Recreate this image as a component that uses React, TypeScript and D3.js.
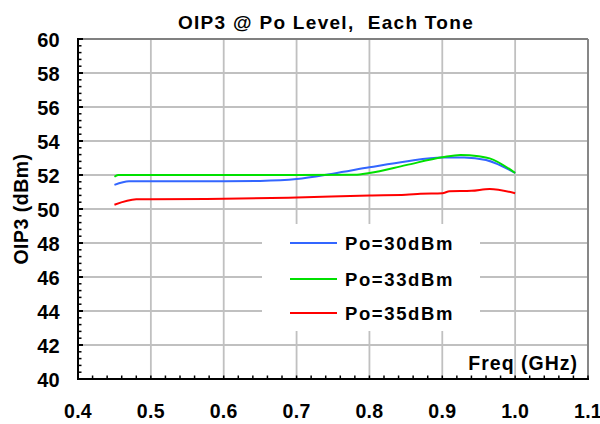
import React from "react";
import * as d3 from "d3";

const freqBlue = [0.45, 0.47, 0.5, 0.55, 0.6, 0.65, 0.7, 0.75, 0.8, 0.85, 0.9, 0.93, 0.96, 1.0];
const valBlue = [51.42, 51.63, 51.63, 51.63, 51.63, 51.65, 51.76, 52.08, 52.45, 52.8, 53.03, 53.03, 52.88, 52.12];
const freqGreen = [0.45, 0.455, 0.5, 0.6, 0.7, 0.78, 0.8, 0.85, 0.9, 0.925, 0.95, 0.965, 1.0];
const valGreen = [51.9, 52.0, 52.0, 52.0, 52.0, 52.02, 52.12, 52.58, 53.04, 53.18, 53.1, 52.98, 52.12];
const freqRed = [0.45, 0.48, 0.5, 0.6, 0.7, 0.8, 0.85, 0.87, 0.9, 0.91, 0.94, 0.965, 1.0];
const valRed = [50.25, 50.57, 50.58, 50.6, 50.68, 50.8, 50.84, 50.9, 50.93, 51.04, 51.07, 51.18, 50.93];

const seriesNames = ["Po=30dBm", "Po=33dBm", "Po=35dBm"];
const seriesColors = ["#3366ff", "#00e000", "#ff0000"];

const xTicks = [0.4, 0.5, 0.6, 0.7, 0.8, 0.9, 1.0, 1.1];
const yTicks = [40, 42, 44, 46, 48, 50, 52, 54, 56, 58, 60];

const title = "OIP3 @ Po Level,  Each Tone";
const xTitle = "Freq (GHz)";
const yTitle = "OIP3 (dBm)";

export default function App() {
  const W = 600, H = 424;
  const L = 78, R = 588, T = 39, B = 379;
  const x = d3.scaleLinear().domain([0.4, 1.1]).range([L, R]);
  const y = d3.scaleLinear().domain([40, 60]).range([B, T]);
  const series = [
    freqBlue.map((f, i) => [f, valBlue[i]]),
    freqGreen.map((f, i) => [f, valGreen[i]]),
    freqRed.map((f, i) => [f, valRed[i]]),
  ];
  const line = d3
    .line<number[]>()
    .x((d) => x(d[0]))
    .y((d) => y(d[1]))
    .curve(d3.curveMonotoneX);
  const xMinor = d3.range(0, 36).map((i) => 0.4 + i * 0.02);
  const yMinor = d3.range(0, 51).map((i) => 40 + i * 0.4);
  const font = "Arial, 'Liberation Sans', sans-serif";
  const legendY = [243, 279, 313];

  return (
    <svg
      width={W}
      height={H}
      style={{ position: "absolute", left: 0, top: 0, display: "block", background: "#fff" }}
      fontFamily={font}
    >
      <rect x={0} y={0} width={W} height={H} fill="#fff" />
      {xTicks.slice(1).map((t) => (
        <line key={"gx" + t} x1={x(t)} x2={x(t)} y1={T} y2={B} stroke="#c0c0c0" strokeWidth={1.8} />
      ))}
      {yTicks.slice(1).map((t) => (
        <line key={"gy" + t} x1={L} x2={R} y1={y(t)} y2={y(t)} stroke="#c0c0c0" strokeWidth={1.8} />
      ))}
      <line x1={L} x2={R} y1={T} y2={T} stroke="#808080" strokeWidth={1.8} />
      <line x1={R} x2={R} y1={T} y2={B} stroke="#808080" strokeWidth={1.8} />
      {series.map((s, i) => (
        <path key={"s" + i} d={line(s as any) || ""} fill="none" stroke={seriesColors[i]} strokeWidth={2} />
      ))}
      <rect x={262} y={224} width={218} height={107} fill="#fff" />
      {seriesNames.map((n, i) => (
        <g key={"lg" + i}>
          <line x1={290} x2={337} y1={legendY[i]} y2={legendY[i]} stroke={seriesColors[i]} strokeWidth={2} />
          <text x={345} y={legendY[i]} dy="0.36em" fontSize={18.5} fontWeight="bold" letterSpacing={1.6}>
            {n}
          </text>
        </g>
      ))}
      <line x1={L} x2={L} y1={T - 1} y2={B + 1} stroke="#000" strokeWidth={2} />
      <line x1={L - 1} x2={R + 1} y1={B} y2={B} stroke="#000" strokeWidth={2} />
      {xMinor.map((t, i) => (
        <line key={"xm" + i} x1={x(t)} x2={x(t)} y1={B} y2={B - 3.5} stroke="#000" strokeWidth={1.5} />
      ))}
      {yMinor.map((t, i) => (
        <line key={"ym" + i} x1={L} x2={L + 3.5} y1={y(t)} y2={y(t)} stroke="#000" strokeWidth={1.5} />
      ))}
      {yTicks.map((t) => (
        <line key={"yM" + t} x1={L} x2={L + 5} y1={y(t)} y2={y(t)} stroke="#000" strokeWidth={2} />
      ))}
      {yTicks.map((t) => (
        <text key={"yl" + t} x={60} y={y(t) + 1} dy="0.36em" textAnchor="end" fontSize={20} fontWeight="bold" letterSpacing={0.3}>
          {t}
        </text>
      ))}
      {xTicks.map((t) => (
        <text key={"xl" + t} x={x(t)} y={411} dy="0.36em" textAnchor="middle" fontSize={19.5} fontWeight="bold" letterSpacing={0.3}>
          {t.toFixed(1)}
        </text>
      ))}
      <text x={326} y={29} textAnchor="middle" fontSize={19} fontWeight="bold" letterSpacing={1.3} style={{ whiteSpace: "pre" }}>
        {title}
      </text>
      <text x={578} y={370} textAnchor="end" fontSize={19.5} fontWeight="bold" letterSpacing={1}>
        {xTitle}
      </text>
      <text
        transform={`translate(28, ${(T + B) / 2}) rotate(-90)`}
        textAnchor="middle"
        fontSize={19.5}
        fontWeight="bold"
        letterSpacing={0.5}
      >
        {yTitle}
      </text>
    </svg>
  );
}
